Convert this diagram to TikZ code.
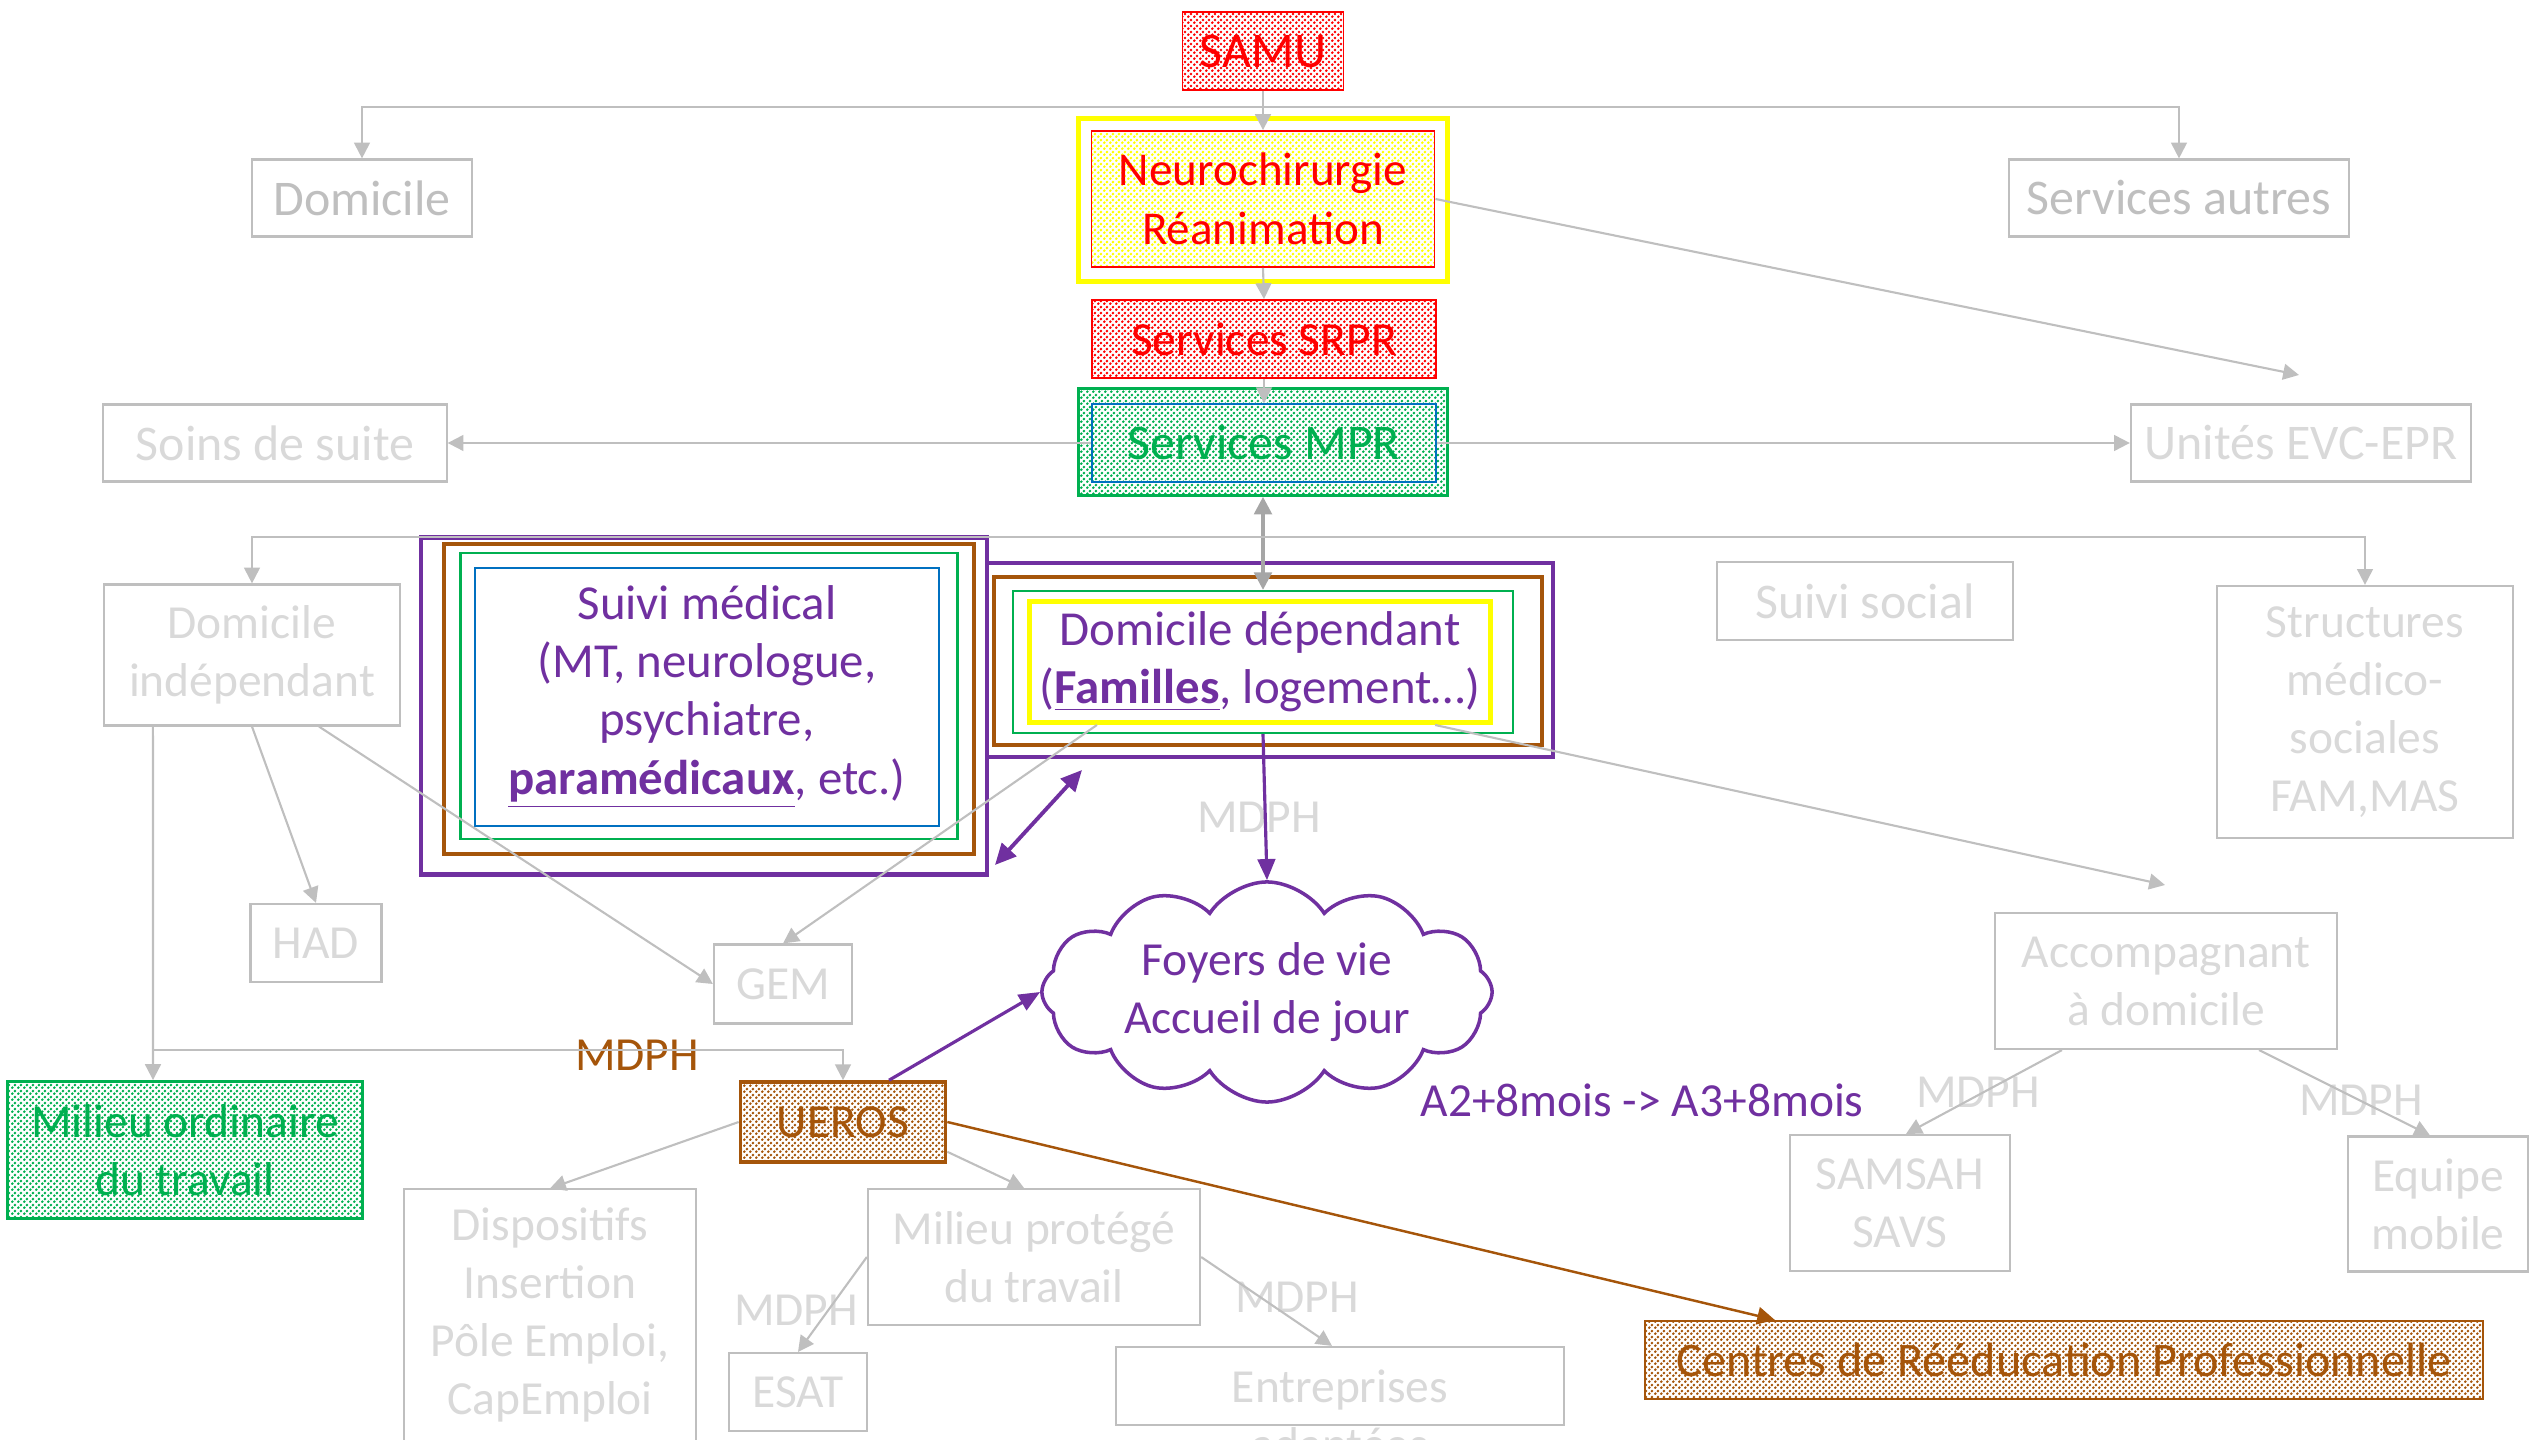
\documentclass[tikz,border=0pt]{standalone}
\usepackage{fontspec}
\setmainfont{Carlito}
\usetikzlibrary{shapes.symbols}
\usetikzlibrary{arrows.meta}
\usetikzlibrary{patterns}
\definecolor{rouge}{RGB}{255,0,0}
\definecolor{jaune}{RGB}{255,255,0}
\definecolor{vert}{RGB}{0,176,80}
\definecolor{bleu}{RGB}{0,112,192}
\definecolor{violet}{RGB}{112,48,160}
\definecolor{brun}{RGB}{165,85,10}
\definecolor{grisbord}{RGB}{191,191,191}
\definecolor{gristexte}{RGB}{217,217,217}
\definecolor{grisfleche}{RGB}{166,166,166}
\pgfdeclarepatternformonly{petitspoints}{\pgfpointorigin}{\pgfqpoint{1.6pt}{1.6pt}}{\pgfqpoint{1.6pt}{1.6pt}}{%
  \pgfpathcircle{\pgfqpoint{0.4pt}{0.4pt}}{0.44pt}%
  \pgfpathcircle{\pgfqpoint{1.2pt}{1.2pt}}{0.44pt}%
  \pgfusepath{fill}}
\newcommand{\taille}{\fontsize{13.5pt}{16.5pt}\selectfont}
\newcommand{\moyen}{\fontsize{13.9pt}{16.6pt}\selectfont}
\newcommand{\grand}{\fontsize{14.2pt}{17pt}\selectfont}
\tikzset{
  boite/.style={draw, rectangle, inner sep=0pt, align=center, font=\taille},
  grise/.style={boite, draw=grisbord, line width=0.6pt, text=gristexte},
  pointille/.style={boite, pattern=petitspoints, pattern color=#1, draw=#1},
  cadre/.style={draw=#1, rectangle, inner sep=0pt},
  fleche/.style={draw=grisbord, line width=0.6pt, -{Triangle[length=4.5pt,width=4.5pt]}},
  lien/.style={draw=grisbord, line width=0.6pt},
  etiquette/.style={font=\taille, text=gristexte, inner sep=0pt},
}

\begin{document}
\begin{tikzpicture}[x=0.01cm,y=-0.01cm]
          \useasboundingbox (0,0) rectangle (2529,1440);

          \node[pointille=rouge, line width=0.5pt, minimum width=1.61cm, minimum height=0.78cm, text=rouge, font=\grand] (samu) at (1263,51) {SAMU};
          \node[cadre=jaune, line width=1.3pt, minimum width=3.69cm, minimum height=1.63cm] (neurocadre) at (1263,200) {};
          \node[pointille=jaune, draw=rouge, line width=0.5pt, minimum width=3.43cm, minimum height=1.36cm, text=rouge, font=\fontsize{13.4pt}{16.8pt}\selectfont] (neuro) at (1263,199) {Neurochirurgie\\Réanimation};
          \node[pointille=rouge, line width=0.5pt, minimum width=3.44cm, minimum height=0.78cm, text=rouge] (srpr) at (1264,339) {Services SRPR};
          \node[pointille=vert, line width=0.7pt, minimum width=3.69cm, minimum height=1.07cm] (mpr) at (1263,442) {};
          \node[cadre=bleu, line width=0.45pt, minimum width=3.44cm, minimum height=0.78cm, text=vert, font=\grand] (mprin) at (1264,443) {Services MPR};

          \node[grise, minimum width=2.2cm, minimum height=0.77cm, text=grisbord, font=\grand] (domicile) at (362,198) {Domicile};
          \node[grise, minimum width=3.39cm, minimum height=0.77cm, text=grisbord, font=\grand] (autres) at (2179,198) {Services autres};
          \node[grise, minimum width=3.43cm, minimum height=0.77cm, font=\grand] (soins) at (275,443) {Soins de suite};
          \node[grise, minimum width=3.40cm, minimum height=0.77cm, font=\grand] (evc) at (2301,443) {Unités EVC-EPR};

          \node[cadre=violet, line width=1.2pt, minimum width=5.66cm, minimum height=3.37cm] (suivi) at (704,706) {};
          \node[cadre=brun, line width=1.1pt, minimum width=5.30cm, minimum height=3.10cm] (suivib) at (709,699) {};
          \node[cadre=vert, line width=0.8pt, minimum width=4.96cm, minimum height=2.86cm] (suiviv) at (709,696) {};
          \node[cadre=bleu, line width=0.5pt, minimum width=4.64cm, minimum height=2.58cm, align=center, text=violet, font=\moyen] (suivimed) at (707,697) {Suivi médical\\(MT, neurologue,\\psychiatre,\\\underline{\textbf{paramédicaux}}, etc.)};

          \node[cadre=violet, line width=1.2pt, minimum width=5.66cm, minimum height=1.94cm] (domdepcadre) at (1270,660) {};
          \node[cadre=brun, line width=1.1pt, minimum width=5.47cm, minimum height=1.68cm] (domdepb) at (1268,661) {};
          \node[cadre=vert, line width=0.6pt, minimum width=4.99cm, minimum height=1.42cm] (domdepv) at (1263,662) {};
          \node[cadre=jaune, line width=1.4pt, minimum width=4.61cm, minimum height=1.21cm, align=center, text=violet, font=\moyen] (domdep) at (1260,662) {Domicile dépendant\\(\underline{\textbf{Familles}}, logement…)};

          \node[grise, minimum width=2.96cm, minimum height=0.78cm, font=\grand] (social) at (1865,601) {Suivi social};
          \node[grise, minimum width=2.96cm, minimum height=2.52cm] (medsoc) at (2365,712) {Structures\\médico-\\sociales\\FAM,MAS};
          \node[grise, minimum width=2.96cm, minimum height=1.41cm] (domind) at (252,655) {Domicile\\indépendant};
          \node[grise, minimum width=1.31cm, minimum height=0.78cm] (had) at (316,943) {HAD};
          \node[grise, minimum width=1.38cm, minimum height=0.79cm] (gem) at (783,984) {GEM};

          \node[cloud, cloud puffs=12, cloud puff arc=115, aspect=2.4, draw=violet, line width=1pt, minimum width=4.5cm, minimum height=1.45cm, inner sep=0pt, align=center, text=violet, font=\taille] (foyers) at (1267,992) {Foyers de vie\\Accueil de jour};

          \node[pointille=vert, line width=0.8pt, minimum width=3.55cm, minimum height=1.37cm, text=vert] (milord) at (185,1150) {Milieu ordinaire\\du travail};
          \node[pointille=brun, line width=1pt, minimum width=2.05cm, minimum height=0.80cm, text=brun] (ueros) at (843,1122) {UEROS};
          \node[grise, minimum width=2.92cm, minimum height=2.51cm] (dispo) at (550,1315) {Dispositifs\\Insertion\\Pôle Emploi,\\CapEmploi};
          \node[grise, minimum width=3.32cm, minimum height=1.36cm] (protege) at (1034,1257) {Milieu protégé\\du travail};
          \node[grise, minimum width=1.38cm, minimum height=0.78cm] (esat) at (798,1392) {ESAT};
          \node[grise, minimum width=4.48cm, minimum height=0.78cm] (entreprises) at (1340,1386) {};
          \node[etiquette, align=center] (entreprisestxt) at (1340,1419) {Entreprises\\adaptées};

          \node[grise, minimum width=3.41cm, minimum height=1.36cm] (accomp) at (2166,981) {Accompagnant\\à domicile};
          \node[grise, minimum width=2.20cm, minimum height=1.36cm] (samsah) at (1900,1203) {SAMSAH\\SAVS};
          \node[grise, minimum width=1.80cm, minimum height=1.35cm] (equipe) at (2438,1204) {Equipe\\mobile};
          \node[pointille=brun, line width=0.6pt, minimum width=8.38cm, minimum height=0.78cm, text=brun, font=\fontsize{13.7pt}{16.5pt}\selectfont] (crp) at (2064,1360) {Centres de Rééducation Professionnelle};

          \node[etiquette] (mdphfoyers) at (1259,817) {MDPH};
          \node[etiquette, text=brun] (mdphueros) at (637,1055) {MDPH};
          \node[etiquette] (mdphesat) at (796,1310) {MDPH};
          \node[etiquette] (mdphentr) at (1297,1297) {MDPH};
          \node[etiquette] (mdphsamsah) at (1978,1092) {MDPH};
          \node[etiquette] (mdphequipe) at (2361,1100) {MDPH};
          \node[etiquette, text=violet] (delai) at (1642,1100) {A2+8mois -> A3+8mois};

        \coordinate (haut) at (1263,107);
        \draw[fleche] (haut) -| (domicile.north);
        \draw[fleche] (haut) -| (autres.north);
        \draw[fleche] (samu.south) -- (neuro.north);
        \draw[fleche] (neuro.south) -- (srpr.north);
        \draw[fleche] (srpr.south) -- (mprin.north);
        \coordinate (versevc) at (2299,375);
        \draw[fleche] (neuro.east) -- (versevc);
        \draw[fleche] (mprin.west) -- (soins.east);
        \draw[fleche] (mprin.east) -- (evc.west);
        \draw[fleche, draw=grisfleche, line width=1pt, {Triangle[length=5pt,width=5pt]}-{Triangle[length=5pt,width=5pt]}] (mpr.south) -- (domdepv.north);
        \coordinate (milieu) at (1263,537);
        \draw[fleche] (milieu) -| (domind.north);
        \draw[fleche] (milieu) -| (medsoc.north);

        \draw[violet, line width=0.9pt, -{Triangle[length=6pt,width=5pt]}] (domdepv.south) -- (foyers.north);
        \coordinate (lienhaut) at (1082,770);
        \coordinate (lienbas) at (995,865);
        \draw[violet, line width=1.1pt, {Triangle[length=6pt,width=5.5pt]}-{Triangle[length=6pt,width=5.5pt]}] (lienhaut) -- (lienbas);
        \draw[violet, line width=0.9pt, -{Triangle[length=6pt,width=5pt]}] ([xshift=0.46cm]ueros.north) -- (foyers.west);

        \draw[fleche] ([xshift=-1.63cm]domdep.south) -- (gem.north);
        \coordinate (versaccomp) at (2165,885);
        \draw[fleche] ([xshift=1.75cm]domdep.south) -- (versaccomp);
        \draw[fleche] (domind.south) -- (had.north);
        \draw[fleche] ([xshift=0.67cm]domind.south) -- (gem.west);
        \coordinate (bifurcation) at (153,1050);
        \draw[fleche] ([xshift=-0.99cm]domind.south) -- (bifurcation) -- (milord.north -| bifurcation);
        \draw[fleche] (bifurcation) -| (ueros.north);
        \draw[fleche] (ueros.west) -- (dispo.north);
        \draw[fleche] ([yshift=0.12cm]ueros.south east) -- ([xshift=-0.1cm]protege.north);
        \draw[fleche] (protege.west) -- (esat.north);
        \draw[fleche] (protege.east) -- ([xshift=-0.08cm]entreprises.north);
        \draw[brun, line width=0.7pt, -{Triangle[length=5pt,width=5pt]}] (ueros.east) -- ([xshift=-2.89cm]crp.north);
        \draw[fleche] ([xshift=-1.04cm]accomp.south) -- ([xshift=0.06cm]samsah.north);
        \draw[fleche] ([xshift=0.93cm]accomp.south) -- ([xshift=-0.08cm]equipe.north);
    \end{tikzpicture}
\end{document}
